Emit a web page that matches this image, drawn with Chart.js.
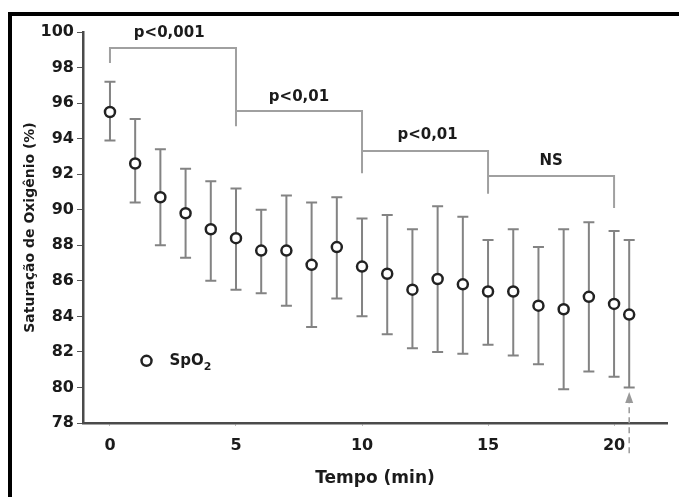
<!DOCTYPE html>
<html>
<head>
<meta charset="utf-8">
<script src="https://cdn.jsdelivr.net/npm/chart.js@4"></script>
<style>
  html, body { margin: 0; padding: 0; background: #fff; }
  #wrap { position: relative; width: 679px; height: 497px; overflow: hidden; }
  #frame { position: absolute; left: 8px; top: 12px; right: -10px; bottom: -10px;
           border-top: 4px solid #000; border-left: 4px solid #000; }
  #chart { position: absolute; left: 0; top: 0; }
</style>
</head>
<body>
<div id="wrap">
  <div id="frame"></div>
  <canvas id="chart" width="679" height="497"></canvas>
</div>
<script>
// tempo (min) e SpO2 media +/- DP
const times = [0, 1, 2, 3, 4, 5, 6, 7, 8, 9, 10, 11, 12, 13, 14, 15, 16, 17, 18, 19, 20, 20.6];
const spo2 = [95.5, 92.6, 90.7, 89.8, 88.9, 88.4, 87.7, 87.7, 86.9, 87.9, 86.8, 86.4, 85.5, 86.1, 85.8, 85.4, 85.4, 84.6, 84.4, 85.1, 84.7, 84.1];
const upper = [97.2, 95.1, 93.4, 92.3, 91.6, 91.2, 90.0, 90.8, 90.4, 90.7, 89.5, 89.7, 88.9, 90.2, 89.6, 88.3, 88.9, 87.9, 88.9, 89.3, 88.8, 88.3];
const lower = [93.9, 90.4, 88.0, 87.3, 86.0, 85.5, 85.3, 84.6, 83.4, 85.0, 84.0, 83.0, 82.2, 82.0, 81.9, 82.4, 81.8, 81.3, 79.9, 80.9, 80.6, 80.0];

const xTicks = [0, 5, 10, 15, 20];
const yTicks = [78, 80, 82, 84, 86, 88, 90, 92, 94, 96, 98, 100];

// colchetes de significancia
const bracketX = [[0, 0, 5, 5], [5, 10, 10], [10, 15, 15], [15, 20, 20]];
const bracketY = [[98.25, 99.1, 99.1, 94.7], [95.55, 95.55, 92.05], [93.3, 93.3, 90.9], [91.9, 91.9, 90.1]];
const bracketLabels = ["p<0,001", "p<0,01", "p<0,01", "NS"];
const labelX = [2.35, 7.5, 12.6, 17.5];
const labelY = [99.95, 96.35, 94.2, 92.75];

const arrowX = 20.6;
const arrowFrom = 76.3;
const arrowTo = 79.75;

const legendX = 1.45;
const legendY = 81.5;

const TEXT = "#1b1b1b";
const FONT = "'DejaVu Sans', sans-serif";

const bracketSets = bracketX.map((xs, i) => ({
  type: "line",
  data: xs.map((x, j) => ({ x, y: bracketY[i][j] })),
  showLine: true,
  borderColor: "#a0a0a0",
  borderWidth: 2,
  pointRadius: 0,
  fill: false,
  tension: 0,
  clip: false,
  order: 2
}));

const extras = {
  id: "extras",
  beforeDatasetsDraw(chart) {
    const { ctx, scales: { x, y } } = chart;
    ctx.save();
    ctx.strokeStyle = "#838383";
    ctx.lineWidth = 2;
    times.forEach((t, i) => {
      const px = x.getPixelForValue(t);
      const top = y.getPixelForValue(upper[i]);
      const bot = y.getPixelForValue(lower[i]);
      ctx.beginPath();
      ctx.moveTo(px, top);
      ctx.lineTo(px, bot);
      ctx.moveTo(px - 5.5, top);
      ctx.lineTo(px + 5.5, top);
      ctx.moveTo(px - 5.5, bot);
      ctx.lineTo(px + 5.5, bot);
      ctx.stroke();
    });
    ctx.restore();
  },
  afterDraw(chart) {
    const { ctx, scales: { x, y } } = chart;
    ctx.save();
    // rotulos dos colchetes
    ctx.fillStyle = TEXT;
    ctx.font = "bold 15px " + FONT;
    ctx.textAlign = "center";
    ctx.textBaseline = "middle";
    bracketLabels.forEach((txt, i) => {
      ctx.fillText(txt, x.getPixelForValue(labelX[i]), y.getPixelForValue(labelY[i]));
    });

    // seta tracejada
    const ax = x.getPixelForValue(arrowX);
    const ay0 = y.getPixelForValue(arrowFrom);
    const ay1 = y.getPixelForValue(arrowTo);
    ctx.strokeStyle = "#999";
    ctx.lineWidth = 1.5;
    ctx.setLineDash([6, 4]);
    ctx.beginPath();
    ctx.moveTo(ax, ay0);
    ctx.lineTo(ax, ay1 + 6);
    ctx.stroke();
    ctx.setLineDash([]);
    ctx.fillStyle = "#999";
    ctx.beginPath();
    ctx.moveTo(ax, ay1);
    ctx.lineTo(ax - 4, ay1 + 11);
    ctx.lineTo(ax + 4, ay1 + 11);
    ctx.closePath();
    ctx.fill();

    // legenda
    const lx = x.getPixelForValue(legendX);
    const ly = y.getPixelForValue(legendY);
    ctx.strokeStyle = "#222";
    ctx.fillStyle = "#fff";
    ctx.lineWidth = 2.5;
    ctx.beginPath();
    ctx.arc(lx, ly, 5, 0, Math.PI * 2);
    ctx.fill();
    ctx.stroke();
    ctx.fillStyle = TEXT;
    ctx.textAlign = "left";
    ctx.font = "bold 15px " + FONT;
    ctx.fillText("SpO", lx + 23, ly);
    const w = ctx.measureText("SpO").width;
    ctx.font = "bold 11px " + FONT;
    ctx.fillText("2", lx + 23 + w, ly + 6);
    ctx.restore();
  }
};

new Chart(document.getElementById("chart"), {
  type: "scatter",
  data: {
    datasets: [
      {
        label: "SpO2",
        data: times.map((t, i) => ({ x: t, y: spo2[i] })),
        pointRadius: 5,
        pointHoverRadius: 5,
        pointBorderWidth: 2.5,
        borderColor: "#222",
        backgroundColor: "#fff",
        clip: false,
        order: 1
      },
      ...bracketSets
    ]
  },
  options: {
    responsive: false,
    animation: false,
    devicePixelRatio: 1,
    layout: { padding: { left: 0, right: 12, top: 32, bottom: 0 } },
    plugins: {
      legend: { display: false },
      tooltip: { enabled: false }
    },
    scales: {
      x: {
        type: "linear",
        min: -1.07,
        max: 22.1,
        afterBuildTicks: (s) => { s.ticks = xTicks.map(v => ({ value: v })); },
        afterFit: (s) => { s.height = 74; },
        grid: { drawOnChartArea: false, drawTicks: true, tickLength: 3, color: "#bbb" },
        border: { color: "#4a4a4a", width: 2.5 },
        ticks: { color: TEXT, font: { family: FONT, size: 16, weight: "bold" }, padding: 10, maxRotation: 0 },
        title: {
          display: true,
          text: "Tempo (min)",
          color: TEXT,
          font: { family: FONT, size: 17, weight: "bold" },
          padding: { top: 0, bottom: 8 }
        }
      },
      y: {
        min: 78,
        max: 100,
        afterBuildTicks: (s) => { s.ticks = yTicks.map(v => ({ value: v })); },
        afterFit: (s) => { s.width = 83; },
        grid: { drawOnChartArea: false, drawTicks: true, tickLength: 6, color: "#555" },
        border: { color: "#4a4a4a", width: 2.5 },
        ticks: { color: TEXT, font: { family: FONT, size: 16, weight: "bold" }, padding: 3 },
        title: {
          display: true,
          text: "Saturação de Oxigênio (%)",
          color: TEXT,
          font: { family: FONT, size: 14, weight: "bold" },
          padding: { top: 22, bottom: 0 }
        }
      }
    }
  },
  plugins: [extras]
});
</script>
</body>
</html>
